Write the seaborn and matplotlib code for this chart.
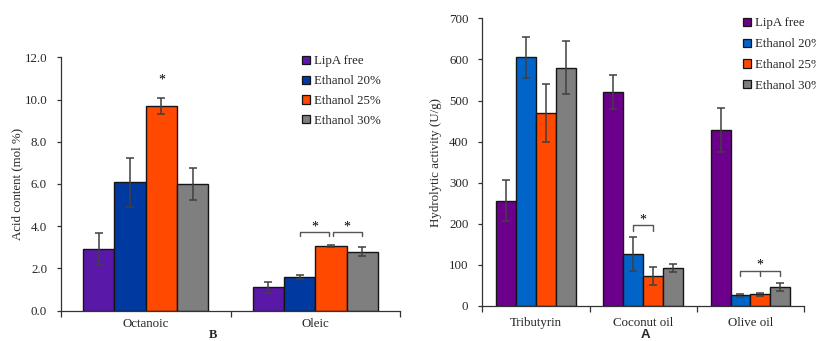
import numpy as np
import pandas as pd
import matplotlib
matplotlib.use("Agg")
import matplotlib.pyplot as plt
import seaborn as sns

# ---------------- data ----------------
series = ["LipA free", "Ethanol 20%", "Ethanol 25%", "Ethanol 30%"]

# Panel B : acid content (mol %)
acids = ["Octanoic", "Oleic"]
b_lipa = [2.93, 1.11]
b_eth20 = [6.08, 1.58]
b_eth25 = [9.70, 3.08]
b_eth30 = [5.99, 2.80]
b_lipa_err = [0.75, 0.25]
b_eth20_err = [1.17, 0.10]
b_eth25_err = [0.38, 0.04]
b_eth30_err = [0.75, 0.23]

# Panel A : hydrolytic activity (U/g)
substrates = ["Tributyrin", "Coconut oil", "Olive oil"]
a_lipa = [256, 520, 428]
a_eth20 = [605, 127, 26]
a_eth25 = [470, 72, 28]
a_eth30 = [580, 93, 46]
a_lipa_err = [50, 41, 54]
a_eth20_err = [50, 42, 4]
a_eth25_err = [71, 22, 3]
a_eth30_err = [65, 10, 10]

b_ticks = [0, 2, 4, 6, 8, 10, 12]
a_ticks = [0, 100, 200, 300, 400, 500, 600, 700]

colors_b = ["#5A18A8", "#003AA0", "#FF4800", "#7F7F7F"]
colors_a = ["#6C008C", "#0064C8", "#FF4800", "#7F7F7F"]

# ---------------- style ----------------
sns.set_style("ticks")
plt.rcParams["font.family"] = ["Liberation Serif", "DejaVu Serif"]
plt.rcParams["font.size"] = 9.3

W, H = 816, 341
fig = plt.figure(figsize=(W / 100, H / 100), dpi=100)


def px_axes(x0, x1, ytop, ybot):
    return fig.add_axes([x0 / W, (H - ybot) / H, (x1 - x0) / W, (ybot - ytop) / H])


axB = px_axes(61, 400, 57.3, 310.7)
axA = px_axes(482.3, 804, 18.3, 306)


def long_df(cats, vals, errs):
    rows = []
    for s, v, e in zip(series, vals, errs):
        for c, vv, ee in zip(cats, v, e):
            rows.append({"cat": c, "series": s, "val": vv, "err": ee})
    return pd.DataFrame(rows)


dfB = long_df(acids, [b_lipa, b_eth20, b_eth25, b_eth30],
              [b_lipa_err, b_eth20_err, b_eth25_err, b_eth30_err])
dfA = long_df(substrates, [a_lipa, a_eth20, a_eth25, a_eth30],
              [a_lipa_err, a_eth20_err, a_eth25_err, a_eth30_err])

edge = "#151515"
axcol = "#333333"


def draw(ax, df, cats, colors, ticks, fmt, ylim):
    sns.barplot(data=df, x="cat", y="val", hue="series", order=cats,
                hue_order=series, palette=colors, saturation=1, width=0.74,
                edgecolor=edge, linewidth=1.0, errorbar=None, ax=ax)
    centers = {}
    for s, cont in zip(series, ax.containers):
        sub = df[df.series == s].set_index("cat").loc[cats]
        xs = [b.get_x() + b.get_width() / 2 for b in cont]
        hs = [b.get_height() for b in cont]
        ax.errorbar(xs, hs, yerr=sub["err"].values, fmt="none",
                    ecolor="#404040", elinewidth=1.1, capsize=2.6,
                    capthick=1.1, zorder=5)
        centers[s] = xs
    n = len(cats)
    ax.set_xlim(-0.5, n - 0.5)
    ax.set_ylim(*ylim)
    ax.set_yticks(ticks)
    ax.set_yticklabels([fmt.format(t) for t in ticks])
    ax.set_xticks(np.arange(-0.5, n), minor=True)
    ax.tick_params(axis="x", which="major", length=0)
    ax.tick_params(axis="x", which="minor", length=4, width=0.9,
                   color=axcol, direction="out")
    ax.tick_params(axis="y", length=3, width=0.9, color=axcol,
                   direction="out", pad=7)
    for sp in ["top", "right"]:
        ax.spines[sp].set_visible(False)
    for sp in ["left", "bottom"]:
        ax.spines[sp].set_color(axcol)
        ax.spines[sp].set_linewidth(0.9)
    ax.set_xlabel("")
    return centers


cB = draw(axB, dfB, acids, colors_b, b_ticks, "{:.1f}", (0, 12))
cA = draw(axA, dfA, substrates, colors_a, a_ticks, "{:d}", (0, 700))

axB.tick_params(axis="x", which="major", pad=5)
axA.tick_params(axis="x", which="major", pad=8)

axB.set_ylabel("Acid content (mol %)", fontsize=9.3)
axB.yaxis.set_label_coords(-0.110, 0.5)
axA.set_ylabel("Hydrolytic activity (U/g)", fontsize=9.3)
axA.yaxis.set_label_coords(-0.124, 0.5)

# legends
sns.move_legend(axB, loc="upper left", bbox_to_anchor=(296 / W, 1 - 49 / H),
                bbox_transform=fig.transFigure, frameon=False, title=None,
                handlelength=0.6, handleheight=0.6, handletextpad=0.3,
                labelspacing=0.6, fontsize=9.3, borderpad=0)
sns.move_legend(axA, loc="upper left", bbox_to_anchor=(737 / W, 1 - 11 / H),
                bbox_transform=fig.transFigure, frameon=False, title=None,
                handlelength=0.6, handleheight=0.6, handletextpad=0.3,
                labelspacing=0.68, fontsize=9.3, borderpad=0)
for ax in (axA, axB):
    for h in ax.get_legend().legend_handles:
        h.set_edgecolor(edge)
        h.set_linewidth(0.9)

# significance marks (annotation data)
star_kw = dict(ha="center", va="center", fontsize=10, color="black")
lk = dict(color="#555555", lw=1.0)

# Panel B
axB.text(cB["Ethanol 25%"][0], 10.9, "*", **star_kw)
x20, x25, x30 = cB["Ethanol 20%"][1], cB["Ethanol 25%"][1], cB["Ethanol 30%"][1]
yb, db = 3.72, 0.16
axB.plot([x20, x20, x25 - 0.01, x25 - 0.01], [yb - db, yb, yb, yb - db], **lk)
axB.plot([x25 + 0.01, x25 + 0.01, x30, x30], [yb - db, yb, yb, yb - db], **lk)
axB.text((x20 + x25) / 2, 3.95, "*", **star_kw)
axB.text((x25 + x30) / 2, 3.95, "*", **star_kw)

# Panel A
x20, x25 = cA["Ethanol 20%"][1], cA["Ethanol 25%"][1]
axA.plot([x20, x20, x25, x25], [182, 197, 197, 182], **lk)
axA.text((x20 + x25) / 2, 210, "*", **star_kw)
x20, x25, x30 = cA["Ethanol 20%"][2], cA["Ethanol 25%"][2], cA["Ethanol 30%"][2]
axA.plot([x20, x20, x30, x30], [72, 86, 86, 72], **lk)
axA.plot([x25, x25], [86, 74], **lk)
axA.text(x25, 100, "*", **star_kw)

# panel letters
fig.text(213 / W, 1 - 335 / H, "B", ha="center", va="center",
         fontsize=9, fontweight="bold", family=["Liberation Serif"])
fig.text(645 / W, 1 - 335.5 / H, "A", ha="center", va="center",
         fontsize=9.5, fontweight="bold", family=["Liberation Sans"])

fig.savefig("out.png", dpi=100)
